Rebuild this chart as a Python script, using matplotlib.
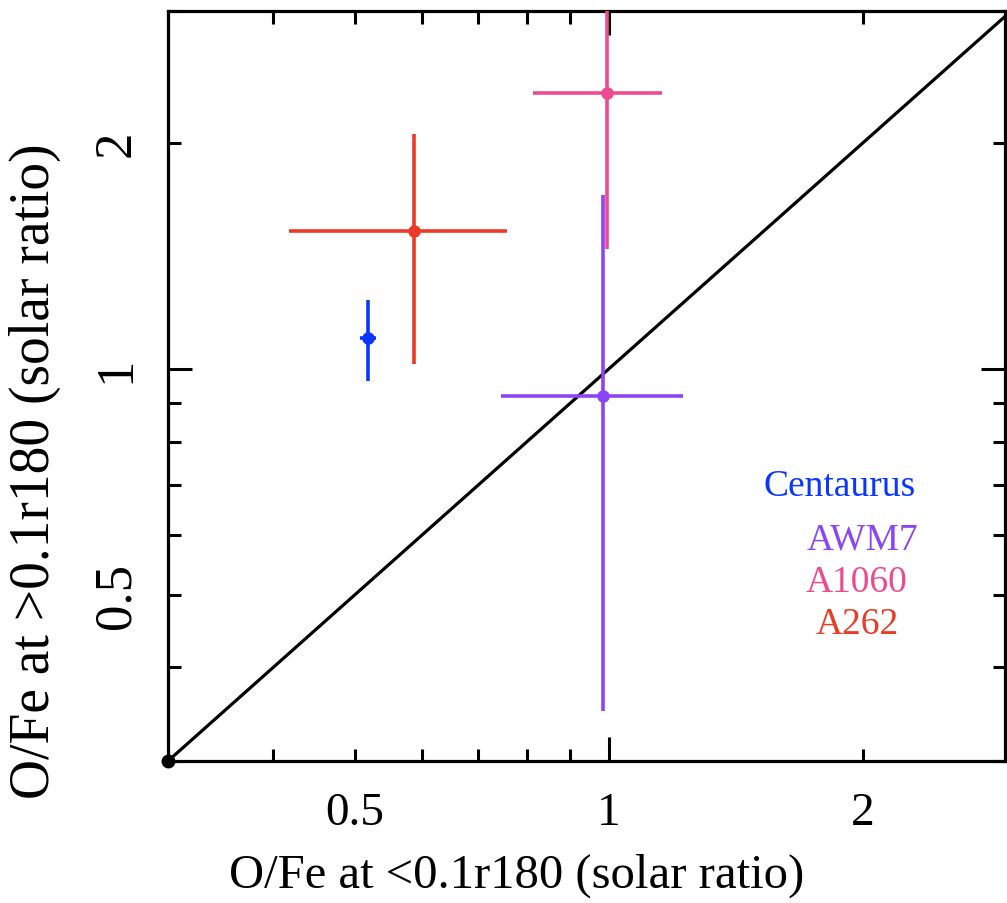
import matplotlib
matplotlib.use('Agg')
import matplotlib.pyplot as plt
import numpy as np
from matplotlib.ticker import FixedLocator, FixedFormatter

plt.rcParams['font.family'] = ['Liberation Serif', 'DejaVu Serif']

names = ['Centaurus', 'AWM7', 'A1060', 'A262']
colors = ['#0a36ff', '#8b45f5', '#ee4a8e', '#ec3a26']

# O/Fe inner (<0.1 r180) and outer (>0.1 r180), solar units
ofe_in = np.array([0.518, 0.984, 0.994, 0.587])
ofe_in_lo = np.array([0.507, 0.745, 0.813, 0.418])
ofe_in_hi = np.array([0.530, 1.224, 1.157, 0.758])
ofe_out = np.array([1.10, 0.920, 2.33, 1.528])
ofe_out_lo = np.array([0.964, 0.350, 1.445, 1.015])
ofe_out_hi = np.array([1.236, 1.705, 3.5, 2.055])

label_x = [0.803, 0.830, 0.822, 0.824]
label_y = [0.367, 0.296, 0.239, 0.183]

major_ticks = [1]
minor_ticks = [0.3, 0.4, 0.5, 0.6, 0.7, 0.8, 0.9, 2, 3]
minor_labels = ['', '', '0.5', '', '', '', '', '2', '']

fig = plt.figure(figsize=(10.07, 9.04), dpi=100)
ax = fig.add_axes([168/1007, 1-762/904, 837/1007, 750/904])
ax.set_xscale('log')
ax.set_yscale('log')
ax.set_xlim(0.3, 2.95)
ax.set_ylim(0.3, 3.0)

ax.axline((1, 1), (2, 2), color='black', linewidth=2.3, zorder=2)
ax.plot([0.3], [0.3], 'o', color='black', markersize=9, clip_on=False, zorder=5)

for i in range(len(names)):
    xerr = [[ofe_in[i]-ofe_in_lo[i]], [ofe_in_hi[i]-ofe_in[i]]]
    yerr = [[ofe_out[i]-ofe_out_lo[i]], [ofe_out_hi[i]-ofe_out[i]]]
    ax.errorbar([ofe_in[i]], [ofe_out[i]], xerr=xerr, yerr=yerr, fmt='o',
                color=colors[i], markersize=8, elinewidth=2.6, capsize=0, zorder=3)
    ax.text(label_x[i], label_y[i], names[i], color=colors[i], fontsize=27,
            ha='center', va='center', transform=ax.transAxes)

for axis in [ax.xaxis, ax.yaxis]:
    axis.set_major_locator(FixedLocator(major_ticks))
    axis.set_major_formatter(FixedFormatter(['1']))
    axis.set_minor_locator(FixedLocator(minor_ticks))
    axis.set_minor_formatter(FixedFormatter(minor_labels))

ax.tick_params(which='both', direction='in', top=True, right=True, width=2.2, color='black')
ax.tick_params(which='major', length=17)
ax.tick_params(which='minor', length=9)
ax.tick_params(axis='x', which='both', labelsize=34, pad=22)
ax.tick_params(axis='y', which='both', labelsize=38, pad=20, labelrotation=90)
for lab in ax.get_yticklabels(which='both'):
    lab.set_va('center')

for s in ['top', 'right', 'bottom', 'left']:
    ax.spines[s].set_linewidth(2.3)

ax.set_xlabel('O/Fe at <0.1r180 (solar ratio)', fontsize=35, va='center')
ax.set_ylabel('O/Fe at >0.1r180 (solar ratio)', fontsize=40, va='center')
ax.xaxis.set_label_coords(0.417, -0.152)
ax.yaxis.set_label_coords(-0.159, 0.388)

plt.savefig('out.png', dpi=100)
